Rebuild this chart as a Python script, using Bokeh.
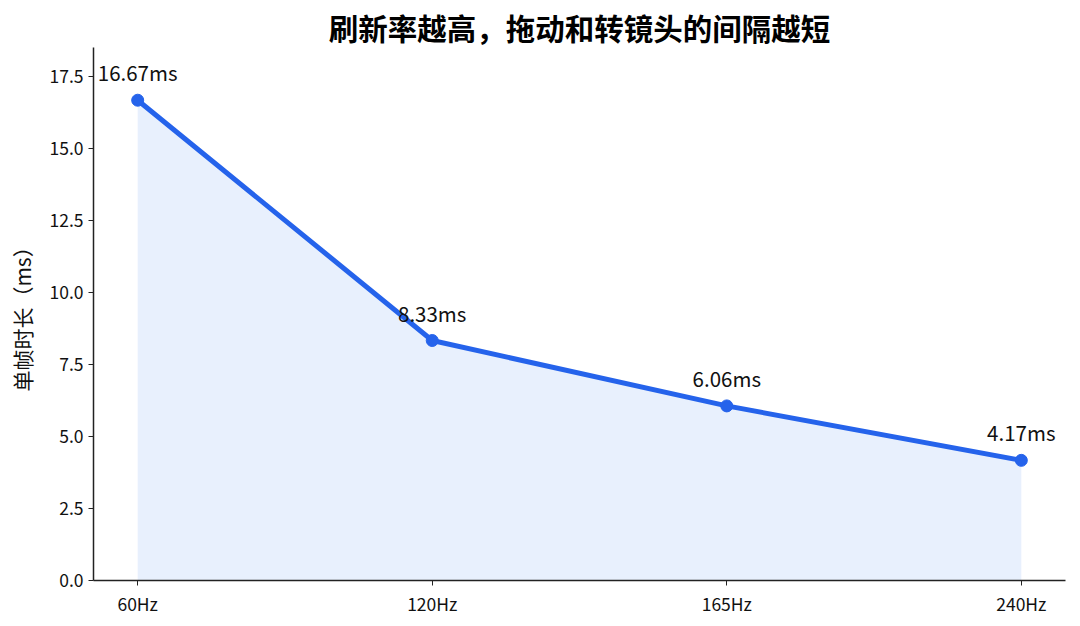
from bokeh.plotting import figure
from bokeh.models import ColumnDataSource, FixedTicker, NumeralTickFormatter, Range1d, LabelSet
from bokeh.core.properties import value
from bokeh.embed import file_html
from bokeh.resources import INLINE

categories = ["60Hz", "120Hz", "165Hz", "240Hz"]
frame_ms = [16.67, 8.33, 6.06, 4.17]
labels = ["16.67ms", "8.33ms", "6.06ms", "4.17ms"]
y_ticks = [0.0, 2.5, 5.0, 7.5, 10.0, 12.5, 15.0, 17.5]

FONT = "Noto Sans CJK SC"
BLUE = "#2563eb"

xs = list(range(len(categories)))
src = ColumnDataSource(dict(x=xs, y=frame_ms, lab=labels, zero=[0] * len(xs)))

p = figure(width=1075, height=620, output_backend="svg", toolbar_location=None,
           x_range=Range1d(-0.15, 3.15), y_range=Range1d(0, 18.5),
           min_border_left=93, min_border_right=10, min_border_bottom=40, min_border_top=47)

p.title.text = "刷新率越高，拖动和转镜头的间隔越短"
p.title.align = "center"
p.title.text_font = FONT
p.title.text_font_size = "29.5px"
p.title.text_font_style = "bold"
p.title.text_color = "#000000"
p.title.standoff = 0

p.varea(x="x", y1="zero", y2="y", source=src, fill_color="#e8f0fd", fill_alpha=1.0)
p.line(x="x", y="y", source=src, line_color=BLUE, line_width=5)
p.scatter(x="x", y="y", source=src, size=12, color=BLUE)

p.add_layout(LabelSet(x="x", y="y", text="lab", source=src, y_offset=13,
                      text_align="center", text_baseline="bottom",
                      text_font=value(FONT), text_font_size="20.5px", text_color="#111111"))

p.xgrid.visible = False
p.ygrid.visible = False
p.outline_line_color = None

p.xaxis.ticker = FixedTicker(ticks=xs)
p.xaxis.major_label_overrides = {i: c for i, c in enumerate(categories)}
p.yaxis.ticker = FixedTicker(ticks=y_ticks)
p.yaxis.formatter = NumeralTickFormatter(format="0.0")
p.yaxis.axis_label = "单帧时长（ms）"
p.yaxis.axis_label_standoff = 9

for ax in (p.xaxis, p.yaxis):
    ax.axis_line_color = "#222222"
    ax.axis_line_width = 1.5
    ax.major_tick_line_color = "#222222"
    ax.major_tick_in = 0
    ax.major_tick_out = 5
    ax.minor_tick_line_color = None
    ax.major_label_text_font = FONT
    ax.major_label_text_font_size = "17.5px"
    ax.major_label_text_color = "#111111"
    ax.axis_label_text_font = FONT
    ax.axis_label_text_font_size = "21px"
    ax.axis_label_text_font_style = "normal"
    ax.axis_label_text_color = "#111111"

open("out.html", "w").write(file_html(p, INLINE))
